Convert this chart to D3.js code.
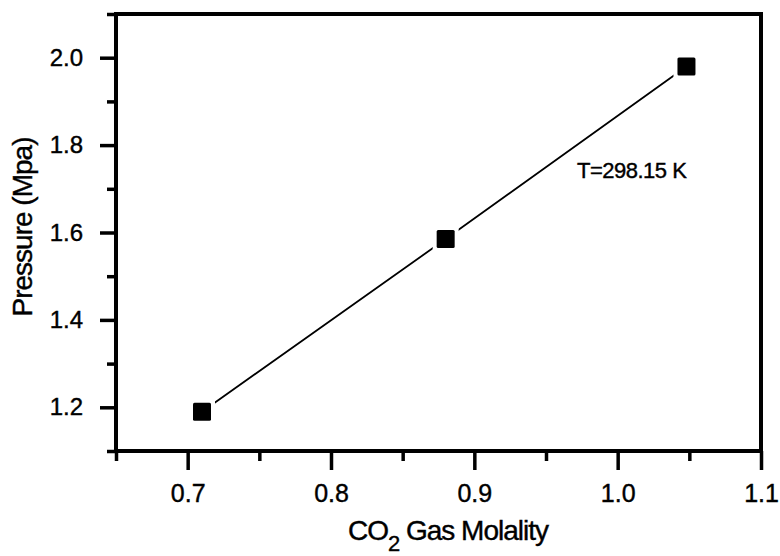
<!DOCTYPE html>
<html>
<head>
<meta charset="utf-8">
<script src="https://cdn.jsdelivr.net/npm/d3@7"></script>
<style>
  body { margin: 0; background: #fff; }
  text { font-family: "Liberation Sans", Arial, sans-serif; fill: #000; stroke: #000; stroke-width: 0.4px; }
</style>
</head>
<body>
<div id="chart"></div>
<script>
// data
const molality = [0.71, 0.88, 1.048];
const pressure = [1.19, 1.585, 1.98];
const xMajor = [0.7, 0.8, 0.9, 1.0, 1.1];
const xMinor = [0.65, 0.75, 0.85, 0.95, 1.05];
const yMajor = [1.2, 1.4, 1.6, 1.8, 2.0];
const yMinor = [1.1, 1.3, 1.5, 1.7, 1.9, 2.1];

const data = molality.map((m, i) => ({ x: m, y: pressure[i] }));

const width = 780,
      height = 556,
      margin = ({ top: 14, right: 19, bottom: 105, left: 116 });

let svg = d3.select("#chart")
    .append("svg")
    .attr("width", width)
    .attr("height", height);

let x = d3.scaleLinear()
    .domain([0.65, 1.1])
    .range([margin.left, width - margin.right]);

let y = d3.scaleLinear()
    .domain([1.1, 2.1])
    .range([height - margin.bottom, margin.top]);

// minor ticks
svg.append("g")
    .attr("transform", `translate(0,${height - margin.bottom})`)
    .call(d3.axisBottom(x).tickValues(xMinor).tickSize(10).tickFormat(""))
    .call(g => g.select(".domain").remove())
    .call(g => g.selectAll("line").style("stroke-width", "3.5px"));

svg.append("g")
    .attr("transform", `translate(${margin.left},0)`)
    .call(d3.axisLeft(y).tickValues(yMinor).tickSize(9).tickFormat(""))
    .call(g => g.select(".domain").remove())
    .call(g => g.selectAll("line").style("stroke-width", "3.5px"));

// major ticks with labels
svg.append("g")
    .attr("transform", `translate(0,${height - margin.bottom})`)
    .call(d3.axisBottom(x).tickValues(xMajor).tickSize(19).tickPadding(14).tickFormat(d3.format(".1f")))
    .call(g => g.select(".domain").remove())
    .call(g => g.selectAll("line").style("stroke-width", "3.5px"))
    .call(g => g.selectAll("text").style("font-size", "25px"));

svg.append("g")
    .attr("transform", `translate(${margin.left},0)`)
    .call(d3.axisLeft(y).tickValues(yMajor).tickSize(16).tickPadding(17).tickFormat(d3.format(".1f")))
    .call(g => g.select(".domain").remove())
    .call(g => g.selectAll("line").style("stroke-width", "3.5px"))
    .call(g => g.selectAll("text").style("font-size", "24px"));

// frame
svg.append("rect")
    .attr("x", margin.left)
    .attr("y", margin.top)
    .attr("width", width - margin.left - margin.right)
    .attr("height", height - margin.top - margin.bottom)
    .attr("fill", "none")
    .attr("stroke", "black")
    .attr("stroke-width", 4);

// fitted line
svg.append("path")
    .datum(data)
    .attr("fill", "none")
    .attr("stroke", "black")
    .attr("stroke-width", 1.8)
    .attr("d", d3.line().x(d => x(d.x)).y(d => y(d.y)));

// white gap around markers, then the markers
svg.selectAll(".gap")
    .data(data)
    .join("rect")
    .attr("x", d => x(d.x) - 13)
    .attr("y", d => y(d.y) - 13)
    .attr("width", 26)
    .attr("height", 26)
    .attr("fill", "white");

svg.selectAll(".pt")
    .data(data)
    .join("rect")
    .attr("x", d => x(d.x) - 9)
    .attr("y", d => y(d.y) - 9)
    .attr("width", 18)
    .attr("height", 18)
    .attr("rx", 1.5)
    .attr("fill", "black");

svg.append("text") // annotation
    .attr("x", 577)
    .attr("y", 178)
    .style("font-size", "22px")
    .style("letter-spacing", "-0.5px")
    .text("T=298.15 K");

// x axis label
let xl = svg.append("text")
    .attr("x", 448)
    .attr("y", 540)
    .attr("text-anchor", "middle")
    .style("font-size", "28px")
    .style("letter-spacing", "-1px");
xl.append("tspan").text("CO");
xl.append("tspan").attr("dy", 11).style("font-size", "22px").text("2");
xl.append("tspan").attr("dy", -11).text(" Gas Molality");

// y axis label
svg.append("text")
    .attr("transform", "translate(32,227) rotate(-90)")
    .attr("text-anchor", "middle")
    .style("font-size", "28px")
    .style("letter-spacing", "-1px")
    .text("Pressure (Mpa)");
</script>
</body>
</html>
